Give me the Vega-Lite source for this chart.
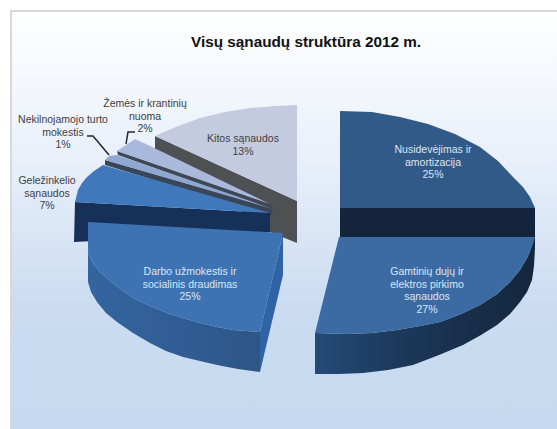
{"$schema":"https://vega.github.io/schema/vega-lite/v6.json","width":557,"height":429,"padding":0,"autosize":{"type":"none"},"background":"#ffffff","view":{"stroke":null},
"title":{"text":"Visų sąnaudų struktūra 2012 m.","font":"Liberation Sans","fontSize":15.3,"fontWeight":"bold","color":"#111111","anchor":"start","frame":"group","align":"left","baseline":"top","offset":0,"dx":191,"dy":50},
"projection":{"type":"identity","scale":1,"translate":[0,0]},
"datasets":{
"shapes":[
{"type":"Feature","properties":{"part":"Fonas"},"geometry":{"type":"Polygon","coordinates":[[[11,11],[557,11],[557,429],[11,429],[11,11]]]}},
{"type":"Feature","properties":{"part":"Nusidėvėjimas šonas","value":25},"geometry":{"type":"Polygon","coordinates":[[[340,208],[535,208],[535,250],[340,250],[340,208]]]}},
{"type":"Feature","properties":{"part":"Nusidėvėjimas","value":25},"geometry":{"type":"Polygon","coordinates":[[[340,111],[372,112],[400,117],[428,124],[455,134],[480,147],[498,161],[513,177],[523,187],[530,197],[535,208],[340,208],[340,111]]]}},
{"type":"Feature","properties":{"part":"Gamtinės šonas","value":27},"geometry":{"type":"Polygon","coordinates":[[[315,333],[347,334],[372,333],[397,330],[420,326],[440,322],[461,314],[480,305],[497,294],[510,282],[520,270],[527,258],[532,247],[535,237],[535,248],[534,266],[532,280],[527,292],[520,302],[510,314],[497,325],[481,335],[463,345],[439,355],[413,365],[388,370],[363,373],[339,374],[315,374],[315,333]]]}},
{"type":"Feature","properties":{"part":"Gamtinės","value":27},"geometry":{"type":"Polygon","coordinates":[[[339,237],[535,237],[532,247],[527,258],[520,270],[510,282],[497,294],[480,305],[461,314],[440,322],[420,326],[397,330],[372,333],[347,334],[315,333],[339,237]]]}},
{"type":"Feature","properties":{"part":"Kitos šonas","value":13},"geometry":{"type":"Polygon","coordinates":[[[155,136],[297,201],[297,243],[270,232],[155,150],[155,136]]]}},
{"type":"Feature","properties":{"part":"Kitos","value":13},"geometry":{"type":"Polygon","coordinates":[[[155,136],[176,127],[200,118],[225,112],[250,108],[275,106],[297,105],[297,201],[155,136]]]}},
{"type":"Feature","properties":{"part":"Žemės šonas","value":2},"geometry":{"type":"Polygon","coordinates":[[[117,151],[270,203],[272,210],[118,155],[117,151]]]}},
{"type":"Feature","properties":{"part":"Žemės","value":2},"geometry":{"type":"Polygon","coordinates":[[[117,151],[135,139],[148,145],[270,204],[117,151]]]}},
{"type":"Feature","properties":{"part":"Nekilnojamas šonas","value":1},"geometry":{"type":"Polygon","coordinates":[[[105,160],[273,208],[271,216],[105,165],[105,160]]]}},
{"type":"Feature","properties":{"part":"Nekilnojamas","value":1},"geometry":{"type":"Polygon","coordinates":[[[105,160],[109,156],[117,155],[273,209],[105,160]]]}},
{"type":"Feature","properties":{"part":"Geležinkelis šonas","value":7},"geometry":{"type":"Polygon","coordinates":[[[75,202],[270,213],[270,232],[74,242],[75,202]]]}},
{"type":"Feature","properties":{"part":"Geležinkelis","value":7},"geometry":{"type":"Polygon","coordinates":[[[103,165],[94,171],[87,177],[82,183],[78,190],[75,202],[270,213],[103,165]]]}},
{"type":"Feature","properties":{"part":"Darbo šonas","value":25},"geometry":{"type":"Polygon","coordinates":[[[88,252],[93,263],[100,272],[115,285],[133,298],[150,306],[167,313],[183,318],[200,323],[217,327],[233,330],[247,331],[260,332],[260,372],[238,369],[217,365],[200,361],[183,357],[166,351],[150,343],[133,333],[117,322],[106,313],[97,302],[91,292],[88,282],[88,252]]]}},
{"type":"Feature","properties":{"part":"Darbo pjūvis","value":25},"geometry":{"type":"Polygon","coordinates":[[[283,233],[283,275],[260,372],[260,332],[283,233]]]}},
{"type":"Feature","properties":{"part":"Darbo","value":25},"geometry":{"type":"Polygon","coordinates":[[[88,222],[283,233],[260,332],[247,331],[233,330],[217,327],[200,323],[183,318],[167,313],[150,306],[133,298],[115,285],[100,272],[93,263],[88,252],[88,222]]]}}
],
"lines":[
{"type":"Feature","properties":{"part":"Rėmelis"},"geometry":{"type":"LineString","coordinates":[[11,429],[11,11],[557,11]]}},
{"type":"Feature","properties":{"part":"Linija"},"geometry":{"type":"LineString","coordinates":[[87,136],[93,136],[109,155]]}},
{"type":"Feature","properties":{"part":"Linija"},"geometry":{"type":"LineString","coordinates":[[135,132],[128,132],[126,144]]}}
],
"labels":[
{"x":433,"y":150,"label":"Nusidevėjimas ir\namortizacija\n25%","tone":"vidus"},
{"x":427,"y":272,"label":"Gamtinių dujų ir\nelektros pirkimo\nsąnaudos\n27%","tone":"vidus"},
{"x":190,"y":272,"label":"Darbo užmokestis ir\nsocialinis draudimas\n25%","tone":"vidus"},
{"x":243,"y":139,"label":"Kitos sąnaudos\n13%","tone":"išorė"},
{"x":145,"y":104,"label":"Žemės ir krantinių\nnuoma\n2%","tone":"išorė"},
{"x":63,"y":120,"label":"Nekilnojamojo  turto\nmokestis\n1%","tone":"išorė"},
{"x":47,"y":181,"label":"Geležinkelio\nsąnaudos\n7%","tone":"išorė"}
]},
"layer":[
{"data":{"name":"shapes"},"transform":[{"filter":{"field":"properties.part","equal":"Fonas"}}],
"mark":{"type":"geoshape","strokeWidth":0,"fill":{"gradient":"linear","x1":0,"y1":0,"x2":0,"y2":1,"stops":[{"offset":0,"color":"#ffffff"},{"offset":0.35,"color":"#e9f0fa"},{"offset":0.7,"color":"#cbdcf1"},{"offset":1,"color":"#c6d9f0"}]}}},
{"data":{"name":"shapes"},"transform":[{"filter":{"field":"properties.part","oneOf":["Nusidėvėjimas šonas","Nusidėvėjimas"]}}],
"mark":{"type":"geoshape","strokeWidth":0},
"encoding":{"fill":{"field":"properties.part","type":"nominal","legend":null,"scale":{"domain":["Nusidėvėjimas šonas","Nusidėvėjimas"],"range":["#13243c","#325a89"]}}}},
{"data":{"name":"shapes"},"transform":[{"filter":{"field":"properties.part","equal":"Gamtinės šonas"}}],
"mark":{"type":"geoshape","strokeWidth":0,"fill":{"gradient":"linear","x1":0,"y1":0,"x2":1,"y2":0,"stops":[{"offset":0,"color":"#234a78"},{"offset":0.45,"color":"#1b3656"},{"offset":1,"color":"#14263c"}]}}},
{"data":{"name":"shapes"},"transform":[{"filter":{"field":"properties.part","oneOf":["Gamtinės","Kitos šonas","Kitos","Žemės šonas","Žemės","Nekilnojamas šonas","Nekilnojamas","Geležinkelis šonas","Geležinkelis"]}}],
"mark":{"type":"geoshape","strokeWidth":0},
"encoding":{"fill":{"field":"properties.part","type":"nominal","legend":null,"scale":{"domain":["Gamtinės","Kitos šonas","Kitos","Žemės šonas","Žemės","Nekilnojamas šonas","Nekilnojamas","Geležinkelis šonas","Geležinkelis"],"range":["#3c6ba3","#4e5054","#c4cbe1","#3f4654","#a9b9dc","#3a4658","#8fa8d2","#17305a","#4178bb"]}}}},
{"data":{"name":"shapes"},"transform":[{"filter":{"field":"properties.part","equal":"Darbo šonas"}}],
"mark":{"type":"geoshape","strokeWidth":0,"fill":{"gradient":"linear","x1":0,"y1":0,"x2":1,"y2":0,"stops":[{"offset":0,"color":"#34659f"},{"offset":0.7,"color":"#2f5a90"},{"offset":1,"color":"#2d5684"}]}}},
{"data":{"name":"shapes"},"transform":[{"filter":{"field":"properties.part","oneOf":["Darbo pjūvis","Darbo"]}}],
"mark":{"type":"geoshape","strokeWidth":0},
"encoding":{"fill":{"field":"properties.part","type":"nominal","legend":null,"scale":{"domain":["Darbo pjūvis","Darbo"],"range":["#2f63a5","#3d73b2"]}}}},
{"data":{"name":"lines"},"mark":{"type":"geoshape","filled":false,"fill":null},
"encoding":{"stroke":{"field":"properties.part","type":"nominal","legend":null,"scale":{"domain":["Rėmelis","Linija"],"range":["#d9d9d9","#262626"]}},
"strokeWidth":{"field":"properties.part","type":"nominal","legend":null,"scale":{"domain":["Rėmelis","Linija"],"range":[2,1.5]}}}},
{"data":{"name":"labels"},"mark":{"type":"text","font":"Liberation Sans","fontSize":10.5,"lineBreak":"\n","lineHeight":12.5,"align":"center","baseline":"middle"},
"encoding":{"longitude":{"field":"x","type":"quantitative"},"latitude":{"field":"y","type":"quantitative"},"text":{"field":"label","type":"nominal"},
"color":{"field":"tone","type":"nominal","legend":null,"scale":{"domain":["vidus","išorė"],"range":["#dce6f4","#404040"]}}}}
],
"resolve":{"scale":{"fill":"independent"}}}
